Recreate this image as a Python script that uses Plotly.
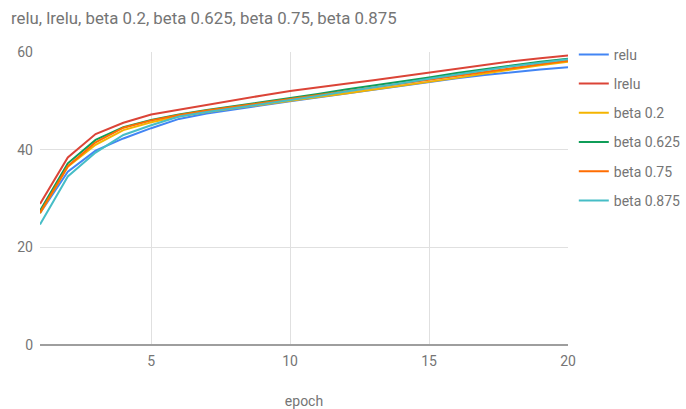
import plotly.graph_objects as go

epochs = list(range(1, 21))

relu = [27.0, 35.5, 39.8, 42.3, 44.4, 46.3, 47.4, 48.3, 49.1, 49.9, 50.7, 51.5, 52.3, 53.1, 53.9, 54.6, 55.3, 55.9, 56.4, 56.9]
lrelu = [28.9, 38.4, 43.2, 45.5, 47.2, 48.2, 49.2, 50.2, 51.1, 52.0, 52.8, 53.5, 54.2, 55.0, 55.8, 56.6, 57.4, 58.1, 58.7, 59.3]
beta_02 = [27.0, 36.5, 41.0, 44.0, 45.6, 46.8, 47.7, 48.5, 49.3, 50.1, 50.8, 51.5, 52.3, 53.0, 53.8, 54.7, 55.6, 56.5, 57.3, 58.0]
beta_0625 = [27.5, 37.2, 42.0, 44.6, 46.1, 47.2, 48.1, 48.9, 49.7, 50.5, 51.4, 52.3, 53.1, 54.0, 54.8, 55.7, 56.5, 57.3, 58.0, 58.6]
beta_075 = [27.1, 36.6, 41.5, 44.5, 46.0, 47.1, 48.0, 48.8, 49.6, 50.4, 51.2, 52.0, 52.8, 53.6, 54.4, 55.2, 56.0, 56.8, 57.5, 58.2]
beta_0875 = [24.7, 34.5, 39.4, 43.0, 45.0, 46.8, 47.7, 48.5, 49.3, 50.1, 51.0, 51.9, 52.7, 53.6, 54.5, 55.4, 56.3, 57.1, 57.8, 58.5]

series_names = ["relu", "lrelu", "beta 0.2", "beta 0.625", "beta 0.75", "beta 0.875"]
series_values = [relu, lrelu, beta_02, beta_0625, beta_075, beta_0875]
colors = ["#4285F4", "#DB4437", "#F4B400", "#0F9D58", "#FF6D01", "#46BDC6"]

x_ticks = [5, 10, 15, 20]
y_ticks = [0, 20, 40, 60]

TEXT = "#757575"

fig = go.Figure()
for name, vals, col in zip(series_names, series_values, colors):
    fig.add_trace(go.Scatter(
        x=epochs, y=vals, name=name, mode="lines", legendgroup=name,
        line=dict(color=col, width=2),
    ))

fig.update_layout(
    width=686, height=409,
    margin=dict(l=40, r=118, t=52, b=64, autoexpand=False),
    paper_bgcolor="white",
    plot_bgcolor="white",
    font=dict(family="Roboto", size=14, color=TEXT),
    title=dict(
        text="relu, lrelu, beta 0.2, beta 0.625, beta 0.75, beta 0.875",
        x=0.016, xanchor="left", y=0.955, yanchor="middle",
        font=dict(family="Roboto", size=16.8, color=TEXT),
    ),
    showlegend=True,
    legend=dict(
        x=1.011, xanchor="left", y=1.045, yanchor="top",
        font=dict(family="Roboto", size=14, color=TEXT),
        itemwidth=30, tracegroupgap=8,
        bgcolor="rgba(0,0,0,0)",
    ),
    xaxis=dict(
        range=[1, 20], tickvals=x_ticks,
        showgrid=True, gridcolor="#e0e0e0", gridwidth=1,
        zeroline=False, showline=False, ticks="", ticklabelstandoff=6,
        title=dict(text="epoch", font=dict(family="Roboto", size=14, color=TEXT), standoff=32),
        tickfont=dict(size=14, color=TEXT),
    ),
    yaxis=dict(
        range=[0, 60], tickvals=y_ticks,
        showgrid=True, gridcolor="#e0e0e0", gridwidth=1,
        zeroline=True, zerolinecolor="#9e9e9e", zerolinewidth=2,
        showline=False, ticks="", ticklabelstandoff=6,
        tickfont=dict(size=14, color=TEXT),
    ),
)

fig.write_html("out.html")
